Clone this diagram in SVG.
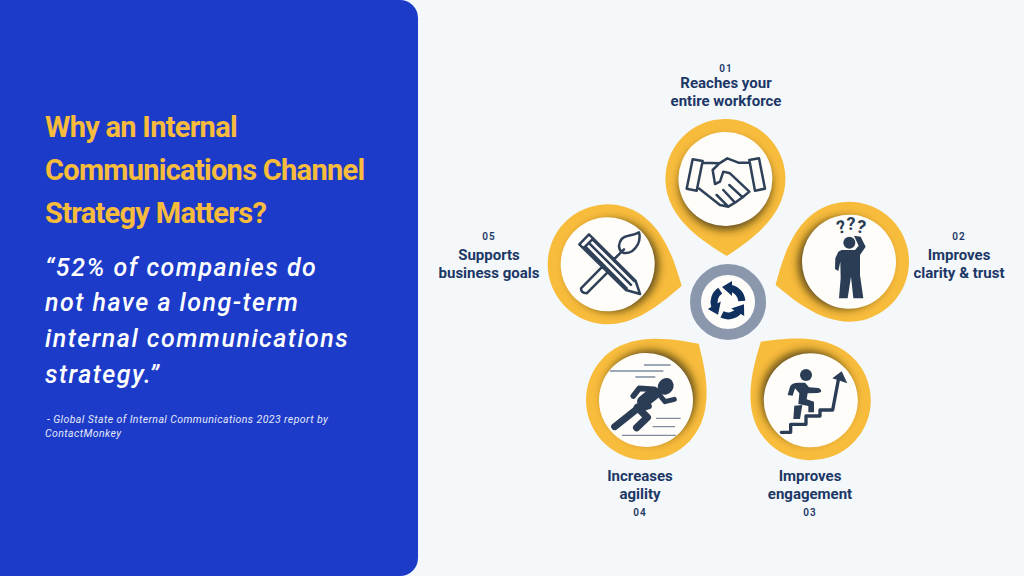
<svg xmlns="http://www.w3.org/2000/svg" xmlns:xlink="http://www.w3.org/1999/xlink" width="1024" height="576" viewBox="0 0 1024 576">
<style>
.title{font:700 29px Roboto,"Liberation Sans",sans-serif;fill:#f8bc3c;letter-spacing:-.72px}
.quote{font:italic 500 25px Roboto,"Liberation Sans",sans-serif;fill:#fff;letter-spacing:1.5px}
.src{font:italic 400 10.5px Roboto,"Liberation Sans",sans-serif;fill:#e6e9f8;letter-spacing:.42px}
.lab{font:700 15px Roboto,"Liberation Sans",sans-serif;fill:#1c3766;text-anchor:middle}
.num{font:600 10px Roboto,"Liberation Sans",sans-serif;fill:#1c3766;text-anchor:middle;letter-spacing:1px}
.q{font:700 18px Roboto,"Liberation Sans",sans-serif;fill:#2b3d55;text-anchor:middle}
.yl{fill:#f8bc3c}.wh{fill:#fefdfa}.sh{fill:#33290c;fill-opacity:.8;filter:url(#blur)}
.ol{fill:none;stroke:#2f4158;stroke-width:7.5;stroke-linejoin:round;stroke-linecap:round}
.fl{fill:#2b3d55}.bd{fill:none;stroke:#2b3d55;stroke-linecap:round;stroke-linejoin:round}
.gl{stroke:#7f8ca0;stroke-width:4;fill:none}
</style>
<defs>
<filter id="blur" x="-30%" y="-30%" width="160%" height="160%"><feGaussianBlur stdDeviation="4.5"/></filter>
<path id="pinShape" d="M0,77C-20,64 -60,40 -60,0A60,60 0 1 1 60,0C60,40 20,64 0,77Z"/>
<clipPath id="pinClip"><use href="#pinShape"/></clipPath>
<g id="pin"><use href="#pinShape" class="yl"/><g clip-path="url(#pinClip)"><circle class="sh" cx="0" cy="5" r="46"/></g><circle class="wh" r="47"/></g>
<g id="cyc"><path d="M13.8,-1A14,14 0 0 0 3,-13.7" fill="none" stroke="#10305f" stroke-width="7"/><polygon points="4,-21 4,-6 -6,-15" fill="#10305f"/></g>
</defs>
<rect width="1024" height="576" fill="#f4f8fa"/>
<rect x="-30" y="0" width="448" height="576" rx="18" fill="#1c3bc9"/>
<text class="title" x="45" y="137">Why an Internal</text>
<text class="title" x="45" y="180">Communications Channel</text>
<text class="title" x="45" y="223">Strategy Matters?</text>
<text class="quote" x="45" y="276">“52% of companies do</text>
<text class="quote" x="45" y="311">not have a long-term</text>
<text class="quote" x="45" y="347">internal communications</text>
<text class="quote" x="45" y="383">strategy.”</text>
<text class="src" x="47" y="423">- Global State of Internal Communications 2023 report by</text>
<text class="src" x="45" y="437">ContactMonkey</text>

<g id="hub"><circle cx="728" cy="302" r="32.5" fill="#fefdfa" stroke="#8a97ad" stroke-width="11"/>
<g transform="translate(728 302)"><use href="#cyc"/><use href="#cyc" transform="rotate(120)"/><use href="#cyc" transform="rotate(240)"/></g></g>

<g id="node1"><use href="#pin" transform="translate(725.4 179) rotate(-1)"/>
<g transform="translate(640 110) scale(.3333)"><path class="ol" d="M158,148L188,153L170,242L140,236ZM328,150L357,145L375,236L345,242ZM188,158L238,160M238,160L218,180L225,222L240,215L250,185L270,190L328,245L308,262M238,160L262,145L295,158L328,158M178,236L240,285L265,290L285,278M230,255L265,290M250,240L285,278L308,262M268,225L308,262"/></g>
<text class="num" x="726" y="72">01</text><text class="lab" x="726" y="88">Reaches your</text><text class="lab" x="726" y="106">entire workforce</text></g>

<g id="node2"><use href="#pin" transform="translate(849 261.7) rotate(72.4)"/>
<g transform="translate(770 195) scale(.3333)"><circle class="fl" cx="238" cy="143" r="18"/><path class="fl" d="M215,165L205,170L196,190L195,222L205,228L211,200L212,250L207,310L233,310L243,245L250,310L280,310L270,240L270,180L287,155L272,125L252,122L266,152L255,165Z"/></g>
<text class="q" transform="translate(842.5 233) rotate(-12)">?</text><text class="q" x="851" y="230">?</text><text class="q" transform="translate(860 233) rotate(12)">?</text>
<text class="num" x="959" y="240">02</text><text class="lab" x="959" y="260">Improves</text><text class="lab" x="959" y="278">clarity &amp; trust</text></g>

<g id="node3"><use href="#pin" transform="translate(810.8 400.3) rotate(139.5)"/>
<g transform="translate(740 330) scale(.3333)"><circle class="fl" cx="198" cy="135" r="18"/><path class="bd" stroke-width="10" d="M124,307L152,307L152,283L198,283L198,258L240,258L240,240L278,240L295,150"/><polygon class="fl" points="305,124 322,160 277,145"/><path class="fl" d="M143,195L150,170Q155,158 175,158L195,158L207,172L235,174Q246,178 243,186L234,189L203,190L200,208L222,215L222,247L205,247L205,228L175,222L178,190L165,175L158,197Z"/><path class="fl" d="M163,227L187,225L180,267L160,267Z"/></g>
<text class="lab" x="810" y="481">Improves</text><text class="lab" x="810" y="499">engagement</text><text class="num" x="810" y="516">03</text></g>

<g id="node4"><use href="#pin" transform="translate(646 400) rotate(223.2)"/>
<g transform="translate(580 330) scale(.3333)"><path class="gl" d="M192,105H272M90,123H250M166,141H226M228,265H302M218,290H285M126,316H288"/><ellipse class="fl" cx="257" cy="169" rx="23" ry="26" transform="rotate(35 257 169)"/><path class="bd" stroke-width="17" d="M160,198L178,175L222,178"/><path class="bd" stroke-width="15" d="M236,192L255,215L283,208"/><path class="bd" stroke-width="38" d="M222,190L190,215"/><path class="bd" stroke-width="21" d="M205,228L170,238L104,290"/><path class="bd" stroke-width="22" d="M172,232L202,262L170,293"/></g>
<text class="lab" x="640" y="481">Increases</text><text class="lab" x="640" y="499">agility</text><text class="num" x="640" y="516">04</text></g>

<g id="node5"><use href="#pin" transform="translate(607.7 264.3) rotate(-73.9)"/>
<g transform="translate(545 195) scale(.3333)"><path class="ol" d="M103,148L132,118L272,258L285,297L243,285ZM115,160L145,130M133,145L258,270M122,156L245,280M145,135L268,258M175,212L108,280Q108,295 125,295L190,230M205,195L237,163M218,208L205,195M222,153Q225,125 250,122Q270,120 282,112Q290,145 262,168Q245,178 232,172Q222,165 222,153Z"/></g>
<text class="num" x="489" y="240">05</text><text class="lab" x="489" y="260">Supports</text><text class="lab" x="489" y="278">business goals</text></g>
</svg>
